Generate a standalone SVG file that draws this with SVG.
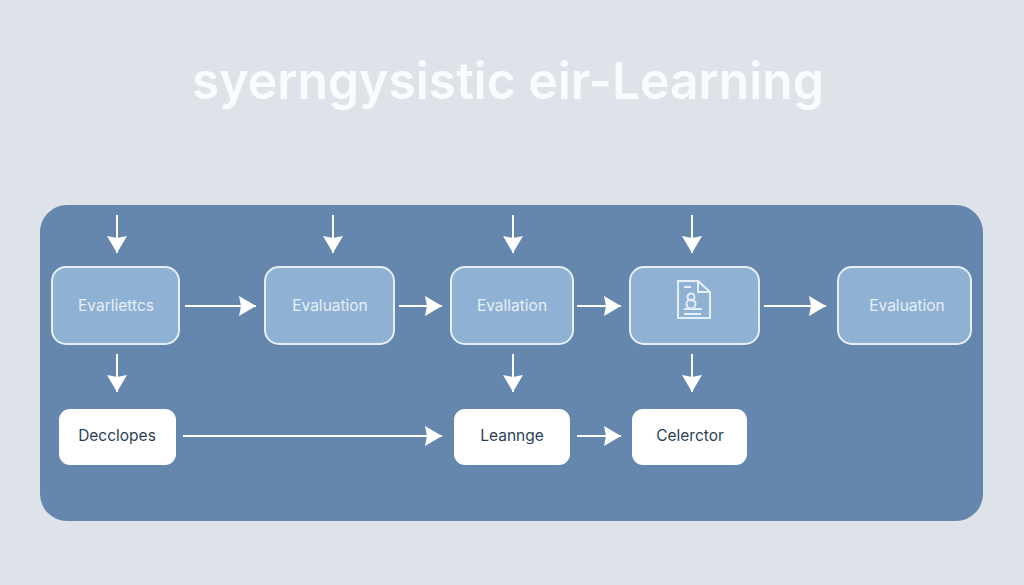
<svg xmlns="http://www.w3.org/2000/svg" width="1024" height="585" viewBox="0 0 1024 585">
<style>
.title{font:600 51px "Inter","Liberation Sans",sans-serif;fill:#fafbfc}
.blue rect{fill:#8fb2d4;stroke:#e6eff6;stroke-width:2}
.blue text{font:15.5px "Inter","Liberation Sans",sans-serif;fill:#e6eff6;text-anchor:middle}
.white rect{fill:#fff}
.white text{font:15.5px "Inter","Liberation Sans",sans-serif;fill:#2b3f55;text-anchor:middle}
#connectors path{stroke:#fff;stroke-width:2;fill:none;marker-end:url(#a)}
#icon path,#icon circle{fill:none;stroke:#e6eff6;stroke-width:2}
</style>
<defs>
<marker id="a" markerUnits="userSpaceOnUse" markerWidth="20" markerHeight="22" refX="17" refY="11" orient="auto"><path d="M0 1L17 11L0 21L2 11Z" style="fill:#fff;stroke:none"/></marker>
</defs>
<rect width="1024" height="585" fill="#dde3e9"/>
<text class="title" x="508" y="99" text-anchor="middle" textLength="632" lengthAdjust="spacingAndGlyphs">syerngysistic eir-Learning</text>
<rect id="panel" x="40" y="205" width="943" height="316" rx="27" fill="#6587ad"/>
<g id="connectors">
<path d="M117 215V253"/><path d="M333 215V253"/><path d="M513 215V253"/><path d="M692 215V253"/>
<path d="M185 306H256"/><path d="M399 306H442"/><path d="M577 306H621"/><path d="M764 306H826"/>
<path d="M117 354V392"/><path d="M513 354V392"/><path d="M692 354V392"/>
<path d="M183 436H442"/><path d="M577 436H621"/>
</g>
<g id="n1" class="blue"><rect x="52" y="267" width="127" height="77" rx="14"/><text x="116" y="311">Evarliettcs</text></g>
<g id="n2" class="blue"><rect x="265" y="267" width="129" height="77" rx="14"/><text x="330" y="311">Evaluation</text></g>
<g id="n3" class="blue"><rect x="451" y="267" width="122" height="77" rx="14"/><text x="512" y="311">Evallation</text></g>
<g id="n4" class="blue"><rect x="630" y="267" width="129" height="77" rx="14"/>
<g id="icon"><path d="M678 281H698L710 292V318H678Z"/><path d="M698 281V292H710"/><path d="M684 287H691M684 309H702M684 314H701"/><circle cx="691" cy="297" r="3.5"/><circle cx="691" cy="304" r="4.5"/></g></g>
<g id="n5" class="blue"><rect x="838" y="267" width="133" height="77" rx="14"/><text x="907" y="311">Evaluation</text></g>
<g id="n6" class="white"><rect x="59" y="409" width="117" height="56" rx="11"/><text x="117" y="441">Decclopes</text></g>
<g id="n7" class="white"><rect x="454" y="409" width="116" height="56" rx="11"/><text x="512" y="441">Leannge</text></g>
<g id="n8" class="white"><rect x="632" y="409" width="115" height="56" rx="11"/><text x="690" y="441">Celerctor</text></g>
</svg>
